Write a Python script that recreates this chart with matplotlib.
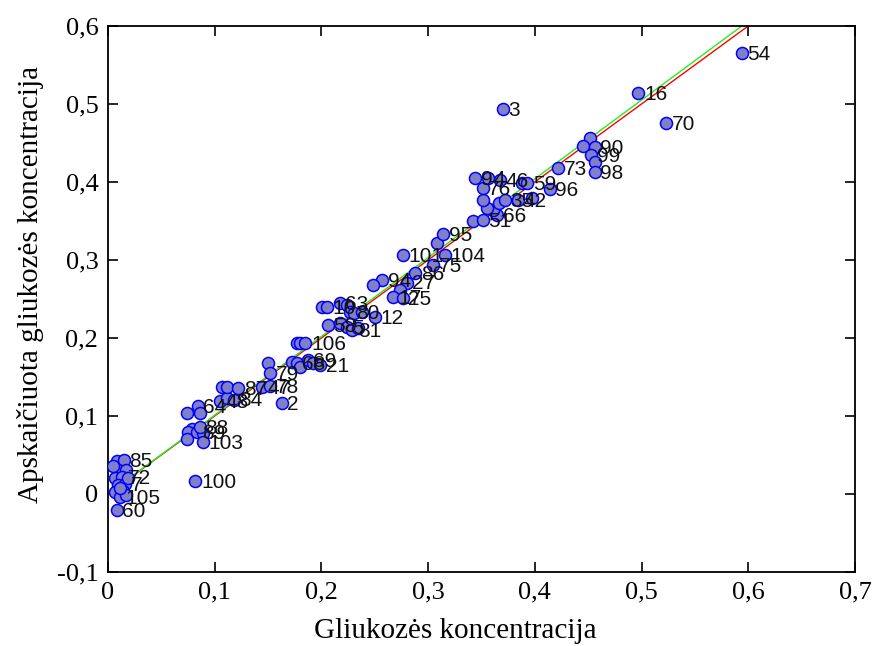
import matplotlib
matplotlib.use("Agg")
import numpy as np
import matplotlib.pyplot as plt

# measured glucose (x), estimated glucose (y), sample number label ("" = no label)
x_meas = [
    0.008, 0.015, 0.009, 0.017, 0.007, 0.013, 0.009, 0.016, 0.007, 0.014,
    0.011, 0.017, 0.008, 0.019, 0.011, 0.005, 0.082,
    0.074, 0.084, 0.086, 0.079, 0.075, 0.074, 0.083, 0.089, 0.089, 0.086,
    0.105, 0.112, 0.107, 0.112, 0.122, 0.118, 0.144, 0.152, 0.150, 0.152,
    0.163, 0.172, 0.177, 0.180, 0.187, 0.192, 0.199, 0.177, 0.180, 0.185,
    0.206, 0.201, 0.205, 0.217, 0.224, 0.227, 0.231, 0.238, 0.250, 0.217,
    0.224, 0.229, 0.234,
    0.257, 0.248, 0.280, 0.274, 0.267, 0.276, 0.288, 0.305, 0.276, 0.316,
    0.308, 0.314, 0.342, 0.351, 0.365, 0.361, 0.355, 0.366, 0.351, 0.351,
    0.344, 0.356, 0.367, 0.384, 0.372, 0.388, 0.393, 0.397, 0.414, 0.422,
    0.452, 0.445, 0.456, 0.453, 0.456, 0.456, 0.370, 0.497, 0.523, 0.594,
]
y_est = [
    0.042, 0.044, 0.031, 0.031, 0.021, 0.022, 0.012, 0.013, 0.003, 0.004,
    -0.004, -0.001, -0.021, 0.021, 0.008, 0.036, 0.017,
    0.104, 0.113, 0.104, 0.083, 0.079, 0.071, 0.079, 0.078, 0.067, 0.086,
    0.119, 0.123, 0.137, 0.137, 0.136, 0.121, 0.137, 0.138, 0.168, 0.155,
    0.117, 0.169, 0.168, 0.163, 0.172, 0.168, 0.165, 0.194, 0.194, 0.194,
    0.217, 0.240, 0.240, 0.245, 0.242, 0.233, 0.232, 0.233, 0.227, 0.219,
    0.214, 0.210, 0.213,
    0.274, 0.268, 0.271, 0.262, 0.253, 0.251, 0.283, 0.294, 0.306, 0.306,
    0.322, 0.333, 0.350, 0.351, 0.358, 0.364, 0.367, 0.373, 0.377, 0.392,
    0.405, 0.405, 0.403, 0.377, 0.377, 0.399, 0.399, 0.379, 0.391, 0.418,
    0.456, 0.446, 0.445, 0.435, 0.426, 0.413, 0.494, 0.514, 0.476, 0.565,
]
labels = [
    "", "85", "", "", "", "72", "", "7", "", "",
    "105", "", "60", "", "", "", "100",
    "", "64", "", "", "", "", "89", "", "103", "88",
    "48", "", "", "", "87", "84", "47", "78", "", "79",
    "2", "", "68", "", "69", "", "21", "", "", "106",
    "58", "", "10", "63", "", "80", "", "", "12", "",
    "5", "81", "",
    "94", "", "27", "", "17", "25", "86", "75", "101", "104",
    "", "95", "", "51", "66", "", "", "", "", "76",
    "9", "4", "46", "42", "35", "", "59", "", "96", "73",
    "", "", "90", "99", "", "98", "3", "16", "70", "54",
]

# fitted lines: ideal (red) and regression (green)
fit_x = [0.0, 0.7]
red_y = [0.0, 0.7]
green_y = [0.0, 0.707]

x_ticks = [0, 0.1, 0.2, 0.3, 0.4, 0.5, 0.6, 0.7]
x_tick_labels = ["0", "0,1", "0,2", "0,3", "0,4", "0,5", "0,6", "0,7"]
y_ticks = [-0.1, 0, 0.1, 0.2, 0.3, 0.4, 0.5, 0.6]
y_tick_labels = ["-0,1", "0", "0,1", "0,2", "0,3", "0,4", "0,5", "0,6"]

fig = plt.figure(figsize=(8.75, 6.46), dpi=100)
ax = fig.add_axes([0.1234, 0.1146, 0.8537, 0.8452])

ax.plot(fit_x, red_y, color="red", lw=1.0, zorder=2)
ax.plot(fit_x, green_y, color="#22ee22", lw=1.0, zorder=2)

ax.scatter(x_meas, y_est, s=75, facecolor="#8080c8", edgecolor="blue",
           linewidths=1.1, zorder=3)

for xi, yi, lab in zip(x_meas, y_est, labels):
    if lab:
        ax.annotate(lab, (xi, yi), xytext=(4, -1), textcoords="offset points",
                    ha="left", va="center", fontsize=15,
                    family="Liberation Sans", color="#111111", zorder=4)

ax.set_xlim(0, 0.7)
ax.set_ylim(-0.1, 0.6)
ax.set_xticks(x_ticks)
ax.set_xticklabels(x_tick_labels)
ax.set_yticks(y_ticks)
ax.set_yticklabels(y_tick_labels)
ax.tick_params(direction="in", length=7, width=1.2, top=True, right=True,
               labelsize=19, pad=7)
for lbl in ax.get_xticklabels() + ax.get_yticklabels():
    lbl.set_family("Liberation Serif")
for sp in ax.spines.values():
    sp.set_linewidth(1.3)

ax.set_xlabel("Gliukozės koncentracija", family="Liberation Serif", fontsize=21)
ax.set_ylabel("Apskaičiuota gliukozės koncentracija", family="Liberation Serif",
              fontsize=21)
# the original labels sit a little off-centre
ax.xaxis.set_label_coords(0.465, -0.085, transform=ax.transAxes)
ax.yaxis.set_label_coords(-0.086, 0.526, transform=ax.transAxes)

fig.savefig("out.png", dpi=100)
